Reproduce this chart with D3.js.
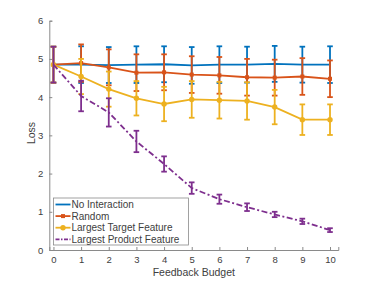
<!DOCTYPE html>
<html>
<head>
<meta charset="utf-8">
<script src="https://cdn.jsdelivr.net/npm/d3@7"></script>
<style>
  body { margin: 0; background: #fff; }
  svg text { font-family: "Liberation Sans", Arial, sans-serif; fill: #404040; }
</style>
</head>
<body>
<svg id="chart" width="374" height="281"></svg>
<script>
// feedback budget values
var budget = [0, 1, 2, 3, 4, 5, 6, 7, 8, 9, 10];
var seriesNames = ["No Interaction", "Random", "Largest Target Feature", "Largest Product Feature"];
// mean loss per series
var noInteraction = [4.85, 4.85, 4.84, 4.85, 4.86, 4.83, 4.85, 4.85, 4.87, 4.85, 4.85];
var randomLoss    = [4.85, 4.89, 4.78, 4.64, 4.65, 4.59, 4.57, 4.52, 4.51, 4.54, 4.48];
var targetLoss    = [4.85, 4.54, 4.21, 3.97, 3.82, 3.94, 3.92, 3.90, 3.74, 3.41, 3.41];
var productLoss   = [4.85, 4.03, 3.60, 2.84, 2.25, 1.62, 1.33, 1.12, 0.93, 0.75, 0.52];
// error bar half widths
var noInteractionErr = [0.47, 0.48, 0.47, 0.48, 0.47, 0.48, 0.48, 0.47, 0.47, 0.47, 0.48];
var randomErr        = [0.47, 0.49, 0.47, 0.48, 0.47, 0.48, 0.48, 0.48, 0.47, 0.48, 0.48];
var targetErr        = [0.47, 0.46, 0.46, 0.45, 0.45, 0.48, 0.48, 0.49, 0.45, 0.40, 0.40];
var productErr       = [0.47, 0.40, 0.37, 0.28, 0.20, 0.15, 0.12, 0.10, 0.07, 0.07, 0.05];
var yTicks = [0, 1, 2, 3, 4, 5, 6];

var svg = d3.select("#chart");
var x = d3.scaleLinear().domain([-0.15, 10.3]).range([49.3, 338.3]);
var y = d3.scaleLinear().domain([0, 6]).range([250, 20.7]);

var series = [
  { name: seriesNames[0], vals: noInteraction, err: noInteractionErr, color: "#0072BD", marker: null, dash: null },
  { name: seriesNames[1], vals: randomLoss, err: randomErr, color: "#D95319", marker: "square", dash: null },
  { name: seriesNames[2], vals: targetLoss, err: targetErr, color: "#EDB120", marker: "circle", dash: null },
  { name: seriesNames[3], vals: productLoss, err: productErr, color: "#7E2F8E", marker: null, dash: "6,2.5,2,2.5" }
];

// axes (MATLAB style, ticks pointing inward)
var xAxis = d3.axisBottom(x).tickValues(budget).tickSize(-3).tickPadding(6).tickFormat(d3.format("d"));
var yAxis = d3.axisLeft(y).tickValues(yTicks).tickSize(-3).tickPadding(6).tickFormat(d3.format("d"));

var gx = svg.append("g").attr("transform", "translate(0," + y(0) + ")").call(xAxis);
var gy = svg.append("g").attr("transform", "translate(" + x(-0.15) + ",0)").call(yAxis);
[gx, gy].forEach(function (g) {
  g.select(".domain").attr("stroke", "#8a8a8a").attr("stroke-width", 1);
  g.selectAll(".tick line").attr("stroke", "#8a8a8a");
  g.selectAll(".tick text").style("font-size", "9.5px").attr("fill", "#404040");
});

var line = d3.line().x(function (d, i) { return x(budget[i]); }).y(function (d) { return y(d); });

series.forEach(function (s) {
  var g = svg.append("g");
  // error bars
  s.vals.forEach(function (v, i) {
    var cx = x(budget[i]), top = y(v + s.err[i]), bot = y(v - s.err[i]);
    g.append("line").attr("x1", cx).attr("x2", cx).attr("y1", top).attr("y2", bot)
      .attr("stroke", s.color).attr("stroke-width", 1.8);
    [top, bot].forEach(function (yy) {
      g.append("line").attr("x1", cx - 2.8).attr("x2", cx + 2.8).attr("y1", yy).attr("y2", yy)
        .attr("stroke", s.color).attr("stroke-width", 1.8);
    });
  });
  g.append("path").datum(s.vals).attr("d", line).attr("fill", "none")
    .attr("stroke", s.color).attr("stroke-width", 1.8)
    .attr("stroke-dasharray", s.dash);
  if (s.marker === "circle") {
    g.selectAll("circle").data(s.vals).enter().append("circle")
      .attr("cx", function (d, i) { return x(budget[i]); }).attr("cy", function (d) { return y(d); })
      .attr("r", 2.7).attr("fill", s.color);
  } else if (s.marker === "square") {
    g.selectAll("rect").data(s.vals).enter().append("rect")
      .attr("x", function (d, i) { return x(budget[i]) - 2; }).attr("y", function (d) { return y(d) - 2; })
      .attr("width", 4).attr("height", 4).attr("fill", s.color);
  }
});

// axis labels
svg.append("text").attr("x", (x(-0.15) + x(10.3)) / 2).attr("y", 275.5)
  .attr("text-anchor", "middle").style("font-size", "10.5px").text("Feedback Budget");
svg.append("text").attr("transform", "translate(35,133) rotate(-90)")
  .attr("text-anchor", "middle").style("font-size", "10.5px").text("Loss");

// legend
var lg = svg.append("g").attr("transform", "translate(53.5,198)");
lg.append("rect").attr("width", 135).attr("height", 47).attr("fill", "#fff")
  .attr("stroke", "#8a8a8a").attr("stroke-width", 0.8);
series.forEach(function (s, i) {
  var ly = 6.5 + i * 11.6;
  lg.append("line").attr("x1", 2).attr("x2", 17).attr("y1", ly).attr("y2", ly)
    .attr("stroke", s.color).attr("stroke-width", 1.8).attr("stroke-dasharray", s.dash ? "4,1.5,1.5,1.5" : null);
  if (s.marker === "circle") {
    lg.append("circle").attr("cx", 9.5).attr("cy", ly).attr("r", 2.7).attr("fill", s.color);
  } else if (s.marker === "square") {
    lg.append("rect").attr("x", 7.5).attr("y", ly - 2).attr("width", 4).attr("height", 4).attr("fill", s.color);
  }
  lg.append("text").attr("x", 18).attr("y", ly + 3.5).style("font-size", "10px")
    .attr("fill", "#262626").text(s.name);
});
</script>
</body>
</html>
